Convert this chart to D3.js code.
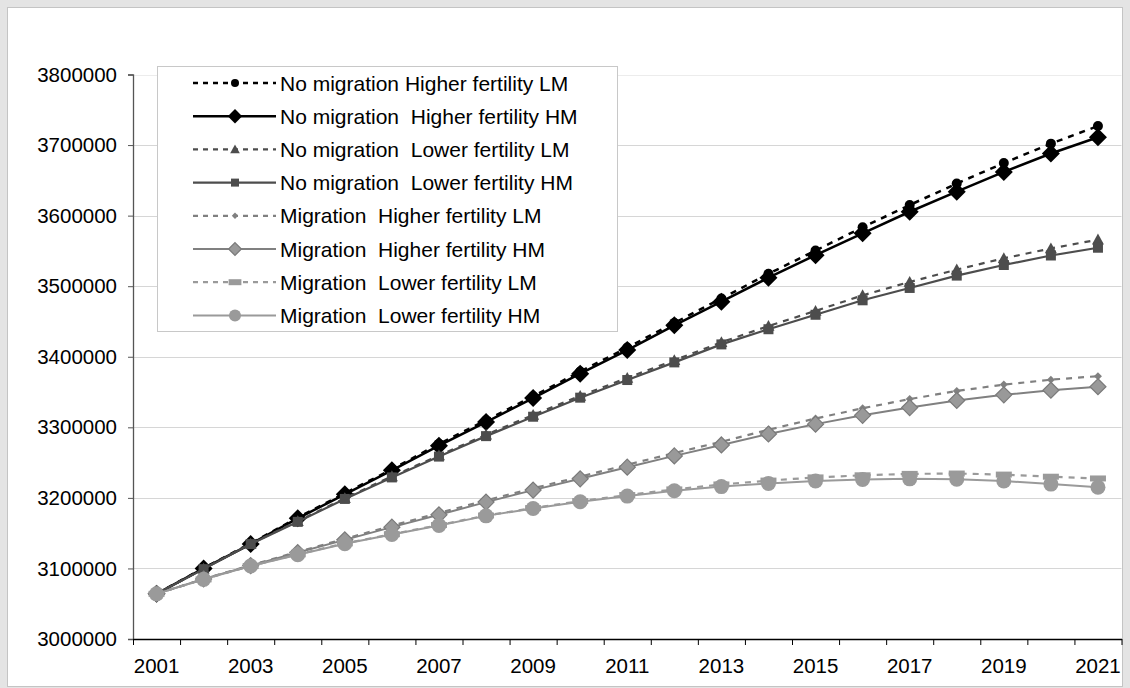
<!DOCTYPE html>
<html>
<head>
<meta charset="utf-8">
<script src="https://cdn.jsdelivr.net/npm/d3@7"></script>
<style>
  body { margin: 0; background: #e4e4e4; }
  svg text { font-family: "Liberation Sans", Arial, sans-serif; fill: #000; }
</style>
</head>
<body>
<div id="chart"></div>
<script>
// categories
const years = d3.range(2001, 2022);
const yTicks = [3000000, 3100000, 3200000, 3300000, 3400000, 3500000, 3600000, 3700000, 3800000];
const xLabels = [2001, 2003, 2005, 2007, 2009, 2011, 2013, 2015, 2017, 2019, 2021];

// series names (double spaces kept as in the original legend)
const seriesNames = [
    "No migration Higher fertility LM",
    "No migration  Higher fertility HM",
    "No migration  Lower fertility LM",
    "No migration  Lower fertility HM",
    "Migration  Higher fertility LM",
    "Migration  Higher fertility HM",
    "Migration  Lower fertility LM",
    "Migration  Lower fertility HM"
];

// series values
const noMigHighLM = [3064000, 3100500, 3135500, 3172000, 3206500, 3240500, 3276500, 3310000, 3344000, 3379000, 3413000,
    3448000, 3482500, 3517500, 3550500, 3583500, 3615000, 3645500, 3674500, 3702000, 3727000];
const noMigHighHM = [3064000, 3100000, 3134500, 3171000, 3205000, 3239000, 3274000, 3307500, 3341500, 3376000, 3409500,
    3444500, 3478000, 3512000, 3544000, 3575000, 3605500, 3634000, 3662000, 3688000, 3711000];
const noMigLowLM = [3064000, 3099500, 3135000, 3167000, 3199500, 3230500, 3260000, 3289500, 3317500, 3344500, 3370000,
    3395000, 3420500, 3443500, 3465000, 3487000, 3506000, 3523500, 3539500, 3553500, 3566000];
const noMigLowHM = [3064000, 3099000, 3134500, 3166000, 3198500, 3229000, 3258500, 3287500, 3315000, 3342000, 3367000,
    3392000, 3417500, 3439000, 3459500, 3480000, 3497500, 3515000, 3530000, 3543500, 3554500];
const migHighLM = [3064000, 3085000, 3104500, 3123500, 3142000, 3160500, 3178500, 3196500, 3213500, 3230000, 3247000,
    3263500, 3279500, 3296500, 3312500, 3327000, 3340000, 3351500, 3360500, 3367500, 3372500];
const migHighHM = [3064000, 3085000, 3104000, 3122500, 3140500, 3158500, 3176000, 3194000, 3211000, 3227000, 3243500,
    3259500, 3275000, 3290500, 3304500, 3317000, 3328000, 3338000, 3346000, 3352500, 3357500];
const migLowLM = [3064000, 3084500, 3103500, 3120000, 3135500, 3148500, 3161500, 3175000, 3185500, 3195500, 3204000,
    3212000, 3219000, 3224500, 3229000, 3232000, 3234000, 3234500, 3233000, 3230000, 3227500];
const migLowHM = [3064000, 3084500, 3103500, 3119500, 3135000, 3148000, 3161000, 3174500, 3185000, 3194500, 3202500,
    3210000, 3216000, 3220500, 3224000, 3226000, 3227000, 3226500, 3224000, 3219500, 3215000];

const seriesValues = [noMigHighLM, noMigHighHM, noMigLowLM, noMigLowHM, migHighLM, migHighHM, migLowLM, migLowHM];

// look of each series
const styles = [
    {stroke: "#000", width: 2.5, dash: "6,6", marker: "circle", size: 5, fill: "#000", mstroke: "none"},
    {stroke: "#000", width: 2.5, dash: null, marker: "diamond", size: 9, fill: "#000", mstroke: "none"},
    {stroke: "#4d4d4d", width: 2.2, dash: "6,6", marker: "triangle", size: 6, fill: "#4d4d4d", mstroke: "none"},
    {stroke: "#4d4d4d", width: 2.2, dash: null, marker: "square", size: 5, fill: "#4d4d4d", mstroke: "none"},
    {stroke: "#808080", width: 2.2, dash: "6,6", marker: "diamond", size: 4, fill: "#808080", mstroke: "none"},
    {stroke: "#808080", width: 2, dash: null, marker: "diamond", size: 8, fill: "#999", mstroke: "#7a7a7a"},
    {stroke: "#9a9a9a", width: 2.2, dash: "6,6", marker: "dash", size: 8, fill: "#9a9a9a", mstroke: "none"},
    {stroke: "#9a9a9a", width: 2, dash: null, marker: "circle", size: 7.5, fill: "#9a9a9a", mstroke: "none"}
];

const W = 1130, H = 688;
const plot = {left: 133, right: 1121.5, top: 74.5, bottom: 639};

const svg = d3.select("#chart").append("svg")
    .attr("width", W)
    .attr("height", H);

// frame
svg.append("rect").attr("width", W).attr("height", H).attr("fill", "#e4e4e4");
svg.append("rect")
    .attr("x", 7.5).attr("y", 7.5)
    .attr("width", 1115).attr("height", 679)
    .attr("fill", "#fff")
    .attr("stroke", "#c4c4c4");

// scales
const x = d3.scaleBand().domain(years).range([plot.left, plot.right]);
const xEdge = d3.scaleLinear().domain([0, years.length]).range([plot.left, plot.right]);
const y = d3.scaleLinear().domain([3000000, 3800000]).range([plot.bottom, plot.top]);
const cx = d => x(d) + x.bandwidth() / 2;

// gridlines
svg.append("g")
    .selectAll("line")
    .data(yTicks.slice(1))
    .join("line")
    .attr("x1", plot.left).attr("x2", plot.right)
    .attr("y1", d => Math.round(y(d)) + 0.5).attr("y2", d => Math.round(y(d)) + 0.5)
    .attr("stroke", d => d === 3800000 ? "#ececec" : "#d6d6d6");

// y axis
const yAxis = svg.append("g")
    .attr("transform", `translate(${plot.left},0)`)
    .call(d3.axisLeft(y).tickValues(yTicks).tickFormat(d3.format("d")).tickSize(5).tickPadding(11));
yAxis.select(".domain").attr("stroke", "#555").attr("stroke-width", 1.3);
yAxis.selectAll(".tick line").attr("stroke", "#555");
yAxis.selectAll("text").attr("font-size", 20.5).style("font-family", "'Liberation Sans', Arial, sans-serif");

// x axis: ticks between categories, labels every second year
const xTickAxis = svg.append("g")
    .attr("transform", `translate(0,${plot.bottom})`)
    .call(d3.axisBottom(xEdge).tickValues(d3.range(0, years.length + 1)).tickFormat("").tickSize(6).tickSizeOuter(0));
xTickAxis.select(".domain").attr("stroke", "#000").attr("stroke-width", 1.3);
xTickAxis.selectAll(".tick line").attr("stroke", "#000");

const xLabelAxis = svg.append("g")
    .attr("transform", `translate(0,${plot.bottom})`)
    .call(d3.axisBottom(x).tickValues(xLabels).tickSize(0).tickPadding(19));
xLabelAxis.select(".domain").remove();
xLabelAxis.selectAll("text").attr("font-size", 20.5).style("font-family", "'Liberation Sans', Arial, sans-serif");

// marker drawing
function markerPath(type, s) {
    if (type === "diamond") return `M0,${-s}L${s},0L0,${s}L${-s},0Z`;
    if (type === "triangle") return `M0,${-s}L${s},${s * 0.8}L${-s},${s * 0.8}Z`;
    if (type === "square") return `M${-s},${-s}H${s}V${s}H${-s}Z`;
    if (type === "dash") return `M${-s},-3H${s}V3H${-s}Z`;
    return d3.symbol(d3.symbolCircle, Math.PI * s * s)();
}

const line = d3.line()
    .x((d, i) => cx(years[i]))
    .y(d => y(d));

seriesValues.forEach((vals, k) => {
    let st = styles[k];
    let g = svg.append("g").attr("class", "series");
    g.append("path")
        .attr("d", line(vals))
        .attr("fill", "none")
        .attr("stroke", st.stroke)
        .attr("stroke-width", st.width)
        .attr("stroke-dasharray", st.dash);
    g.selectAll(".marker")
        .data(vals)
        .join("path")
        .attr("class", "marker")
        .attr("transform", (d, i) => `translate(${cx(years[i])},${y(d)})`)
        .attr("d", markerPath(st.marker, st.size))
        .attr("fill", st.fill)
        .attr("stroke", st.mstroke)
        .attr("stroke-width", 1.2);
});

// legend
const legend = svg.append("g");
legend.append("rect")
    .attr("x", 157.5).attr("y", 66.5)
    .attr("width", 460).attr("height", 265)
    .attr("fill", "#fff")
    .attr("stroke", "#c8c8c8");

const rowY = i => 83 + i * 33.2;

seriesNames.forEach((name, k) => {
    let st = styles[k];
    let row = legend.append("g");
    row.append("line")
        .attr("x1", 193).attr("x2", 276)
        .attr("y1", rowY(k)).attr("y2", rowY(k))
        .attr("stroke", st.stroke)
        .attr("stroke-width", st.width)
        .attr("stroke-dasharray", st.dash ? "5,5" : null);
    row.append("path")
        .attr("transform", `translate(235,${rowY(k)})`)
        .attr("d", markerPath(st.marker, st.size * 0.8))
        .attr("fill", st.fill)
        .attr("stroke", st.mstroke)
        .attr("stroke-width", 1.2);
    row.append("text")
        .attr("x", 280)
        .attr("y", rowY(k))
        .attr("dy", "0.36em")
        .attr("font-size", 21)
        .style("white-space", "pre")
        .text(name);
});
</script>
</body>
</html>
